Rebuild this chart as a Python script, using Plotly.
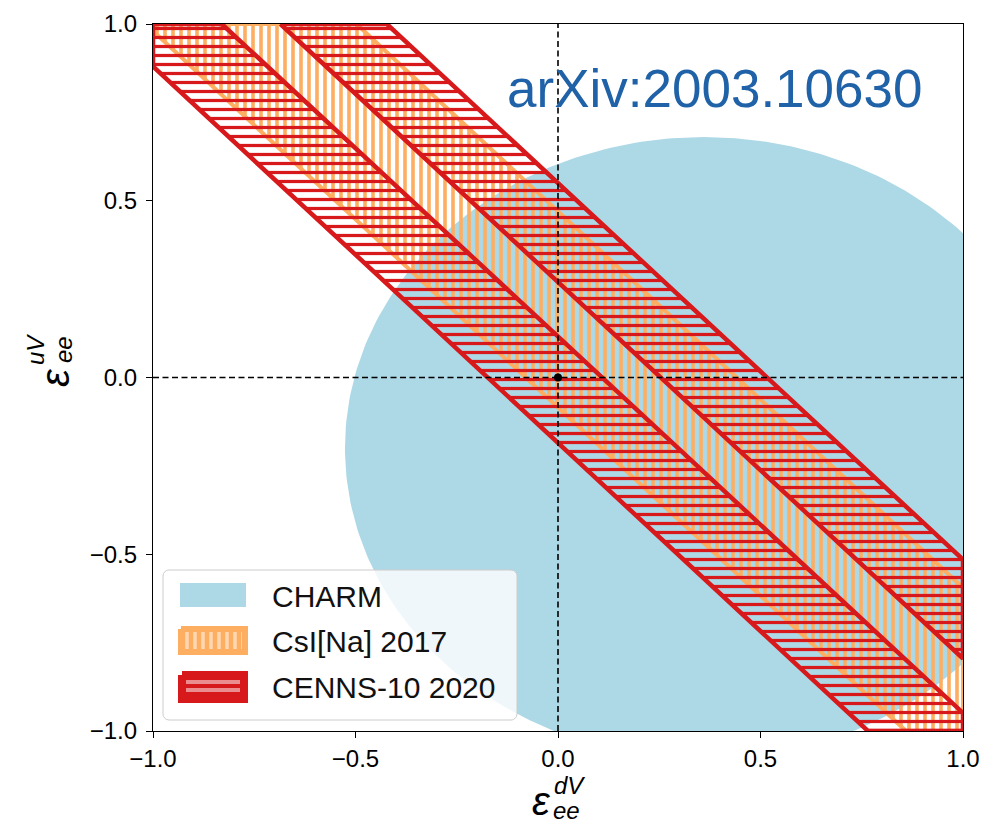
import numpy as np
import plotly.graph_objects as go

# ---- data -------------------------------------------------------------
tick_vals = [-1.0, -0.5, 0.0, 0.5, 1.0]
tick_text = ["\u22121.0", "\u22120.5", "0.0", "0.5", "1.0"]

# CHARM allowed region: ellipse in the (eps_dV, eps_uV) plane
charm_center = [0.36, -0.20]
charm_semi_axes = [0.886, 0.88]

# common slope of the COHERENT degeneracy bands: eps_uV = c + slope * eps_dV
band_slope = -1.065
# CsI[Na] 2017 allowed band (intercepts at eps_dV = 0)
csi_intercepts = [-0.085, 0.47]
# CENNS-10 2020 allowed bands
cenns_intercepts = [[-0.185, 0.116], [0.27, 0.55]]

legend_labels = ["CHARM", "CsI[Na] 2017", "CENNS-10 2020"]
ref_label = "arXiv:2003.10630"

# ---- style ------------------------------------------------------------
C_CHARM = "#ADD8E6"
C_CSI = "#FDAE61"
C_CENNS = "#D7191C"
FONT = "Liberation Sans, Arial, Helvetica, sans-serif"

W, H = 982, 823
ML, MR, MT, MB = 153, 19, 24, 92
PW, PH = W - ML - MR, H - MT - MB


def px_x(px):
    return (px - ML) / PW


def px_y(py):
    return (H - MB - py) / PH


def clip_to_box(poly, lo=-1.0, hi=1.0):
    """Sutherland-Hodgman clipping of a polygon to the square [lo, hi]^2."""
    def clip(pts, inside, cut):
        out = []
        for i in range(len(pts)):
            cur, prev = pts[i], pts[i - 1]
            if inside(cur):
                if not inside(prev):
                    out.append(cut(prev, cur))
                out.append(cur)
            elif inside(prev):
                out.append(cut(prev, cur))
        return out

    def cut_x(v):
        def f(p, q):
            t = (v - p[0]) / (q[0] - p[0])
            return (v, p[1] + t * (q[1] - p[1]))
        return f

    def cut_y(v):
        def f(p, q):
            t = (v - p[1]) / (q[1] - p[1])
            return (p[0] + t * (q[0] - p[0]), v)
        return f

    poly = clip(poly, lambda p: p[0] >= lo, cut_x(lo))
    poly = clip(poly, lambda p: p[0] <= hi, cut_x(hi))
    poly = clip(poly, lambda p: p[1] >= lo, cut_y(lo))
    poly = clip(poly, lambda p: p[1] <= hi, cut_y(hi))
    return poly


def band_polygon(c_lo, c_hi, k, span=3.0):
    pts = [(-span, c_lo - k * span), (span, c_lo + k * span),
           (span, c_hi + k * span), (-span, c_hi - k * span)]
    pts = clip_to_box(pts)
    pts.append(pts[0])
    return [p[0] for p in pts], [p[1] for p in pts]


fig = go.Figure()

# CHARM ellipse
t = np.linspace(0, 2 * np.pi, 361)
fig.add_trace(go.Scatter(
    x=charm_center[0] + charm_semi_axes[0] * np.cos(t),
    y=charm_center[1] + charm_semi_axes[1] * np.sin(t),
    mode="lines", fill="toself", fillcolor=C_CHARM,
    line=dict(width=0, color=C_CHARM), hoverinfo="skip", name=legend_labels[0]))

# CsI[Na] 2017 band, vertical hatching
bx, by = band_polygon(csi_intercepts[0], csi_intercepts[1], band_slope)
fig.add_trace(go.Scatter(
    x=bx, y=by, mode="lines", fill="toself", fillcolor=C_CSI,
    fillpattern=dict(shape="|", fgcolor=C_CSI, bgcolor="rgba(0,0,0,0)",
                     fillmode="replace", size=8, solidity=0.45),
    line=dict(color=C_CSI, width=4), hoverinfo="skip", name=legend_labels[1]))

# CENNS-10 2020 bands, horizontal hatching
for lo, hi in cenns_intercepts:
    bx, by = band_polygon(lo, hi, band_slope)
    fig.add_trace(go.Scatter(
        x=bx, y=by, mode="lines", fill="toself", fillcolor=C_CENNS,
        fillpattern=dict(shape="-", fgcolor=C_CENNS, bgcolor="rgba(0,0,0,0)",
                         fillmode="replace", size=9, solidity=0.36),
        line=dict(color=C_CENNS, width=4.5), hoverinfo="skip", name=legend_labels[2]))

# Standard Model reference lines and point
dash = dict(color="black", width=1.6, dash="6px,3.5px")
fig.add_trace(go.Scatter(x=[0, 0], y=[-1, 1], mode="lines", line=dash, hoverinfo="skip"))
fig.add_trace(go.Scatter(x=[-1, 1], y=[0, 0], mode="lines", line=dash, hoverinfo="skip"))
fig.add_trace(go.Scatter(x=[0], y=[0], mode="markers",
                         marker=dict(color="black", size=8), hoverinfo="skip"))

# ---- legend panel (drawn in a small helper subplot, pixel coordinates) --
LX0, LX1, LY0, LY1 = 159, 521, 566, 724


def rounded_rect(x0, y0, x1, y1, r, n=8):
    xs, ys = [], []
    corners = [(x1 - r, y0 + r, -np.pi / 2, 0), (x1 - r, y1 - r, 0, np.pi / 2),
               (x0 + r, y1 - r, np.pi / 2, np.pi), (x0 + r, y0 + r, np.pi, 1.5 * np.pi)]
    for cx, cy, a0, a1 in corners:
        a = np.linspace(a0, a1, n)
        xs += list(cx + r * np.cos(a))
        ys += list(cy + r * np.sin(a))
    xs.append(xs[0])
    ys.append(ys[0])
    return xs, ys


def rect(x0, y0, x1, y1):
    return [x0, x1, x1, x0, x0], [y0, y0, y1, y1, y0]


lx, ly = rounded_rect(163, 570, 517, 720, 6)
fig.add_trace(go.Scatter(x=lx, y=ly, xaxis="x2", yaxis="y2", mode="lines",
                         fill="toself", fillcolor="rgba(255,255,255,0.8)",
                         line=dict(color="#CCCCCC", width=1), hoverinfo="skip"))

sx, sy = rect(180, 583, 246, 607)
fig.add_trace(go.Scatter(x=sx, y=sy, xaxis="x2", yaxis="y2", mode="lines",
                         fill="toself", fillcolor=C_CHARM,
                         line=dict(width=0, color=C_CHARM), hoverinfo="skip"))
sx, sy = rect(181, 629, 245, 652)
fig.add_trace(go.Scatter(x=sx, y=sy, xaxis="x2", yaxis="y2", mode="lines",
                         fill="toself", fillcolor=C_CSI,
                         fillpattern=dict(shape="|", fgcolor="white", bgcolor=C_CSI,
                                          size=8, solidity=0.45),
                         line=dict(width=6, color=C_CSI), hoverinfo="skip"))
sx, sy = rect(182, 675, 244, 699)
fig.add_trace(go.Scatter(x=sx, y=sy, xaxis="x2", yaxis="y2", mode="lines",
                         fill="toself", fillcolor=C_CENNS,
                         fillpattern=dict(shape="-", fgcolor="white", bgcolor=C_CENNS,
                                          size=8, solidity=0.5),
                         line=dict(width=8, color=C_CENNS), hoverinfo="skip"))

annotations = []
for label, yc in zip(legend_labels, [596, 641, 687]):
    annotations.append(dict(x=270, y=yc, xref="x2", yref="y2", text=label,
                            showarrow=False, xanchor="left", yanchor="middle",
                            font=dict(size=30, color="#111111", family=FONT)))

# reference tag
annotations.append(dict(x=px_x(715), y=px_y(88), xref="paper", yref="paper",
                        text=ref_label, showarrow=False, xanchor="center",
                        yanchor="middle", font=dict(size=53, color="#1F62A8", family=FONT)))


# axis titles: epsilon with stacked sub/superscripts
def eps_label(cx, cy, sup, sub, sup_c, sub_c, angle=0):
    out = [dict(x=px_x(cx), y=px_y(cy), xref="paper", yref="paper", text="<i>\u03b5</i>",
                showarrow=False, xanchor="center", yanchor="middle", textangle=angle,
                font=dict(size=40, color="black", family=FONT))]
    for txt, (px, py) in ((sup, sup_c), (sub, sub_c)):
        out.append(dict(x=px_x(px), y=px_y(py), xref="paper", yref="paper",
                        text="<i>%s</i>" % txt, showarrow=False, xanchor="center",
                        yanchor="middle", textangle=angle,
                        font=dict(size=24, color="black", family=FONT)))
    return out


annotations += eps_label(541, 801, "dV", "ee", (569, 786), (566, 810))
annotations += eps_label(55, 378, "uV", "ee", (35, 350), (63, 350), angle=-90)

axis_common = dict(range=[-1, 1], tickvals=tick_vals, ticktext=tick_text,
                   showgrid=False, zeroline=False, showline=True, linecolor="black",
                   linewidth=1.3, mirror=True, ticks="outside", ticklen=6,
                   tickwidth=1.3, tickcolor="black", automargin=False,
                   ticklabeloverflow="allow",
                   tickfont=dict(size=24, color="black", family=FONT))

fig.update_layout(
    width=W, height=H, autosize=False,
    margin=dict(l=ML, r=MR, t=MT, b=MB, pad=0, autoexpand=False),
    paper_bgcolor="white", plot_bgcolor="rgba(0,0,0,0)",
    showlegend=False,
    xaxis=dict(**axis_common),
    yaxis=dict(**axis_common, ticklabelstandoff=4),
    xaxis2=dict(domain=[px_x(LX0), px_x(LX1)], range=[LX0, LX1], visible=False,
                anchor="y2", fixedrange=True),
    yaxis2=dict(domain=[px_y(LY1), px_y(LY0)], range=[LY1, LY0], visible=False,
                anchor="x2", fixedrange=True),
    annotations=annotations,
    font=dict(family=FONT),
)

fig.write_html("out.html", config={"responsive": False, "displayModeBar": False})
